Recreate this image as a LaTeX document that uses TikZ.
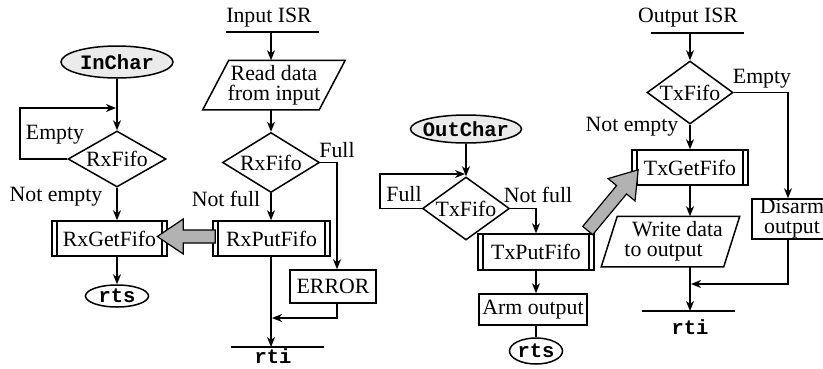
\documentclass[tikz,border=0pt]{standalone}
\usepackage{fontspec}
\setmainfont{Liberation Serif}
\setmonofont{Liberation Mono}
\usetikzlibrary{shapes.geometric,arrows.meta,calc}
\definecolor{lightfill}{gray}{0.92}
\definecolor{gfill}{gray}{0.70}
\begin{document}
\begin{tikzpicture}[x=1pt,y=-1pt,
  line width=1.5pt,
  every node/.style={font=\fontsize{21.8}{20}\selectfont, inner sep=0pt},
  mono/.style={font=\fontsize{20.5}{20}\selectfont\ttfamily\bfseries},
  arr/.style={-{Stealth[length=10pt,width=8pt,inset=3pt]}},
  dec/.style={draw, diamond, inner sep=0pt},
  term/.style={draw, ellipse, inner sep=0pt},
  boxx/.style={draw, rectangle},
  pproc/.style={draw, rectangle, path picture={
      \draw[line width=1.5pt]
        ([xshift=5pt]path picture bounding box.north west) -- ([xshift=5pt]path picture bounding box.south west)
        ([xshift=-5pt]path picture bounding box.north east) -- ([xshift=-5pt]path picture bounding box.south east);}},
  garrow/.style={draw, line width=1.2pt, fill=gfill, line join=miter},
  barnode/.style={minimum width=91pt, minimum height=0pt}
]
\useasboundingbox (0,0) rectangle (823,368);
\clip (0,0) rectangle (823,368);

% ---------- InChar ----------
\node[term, fill=lightfill, minimum width=112pt, minimum height=32pt, label={[mono]center:InChar}] (inchar) at (117,62) {};
\node[dec, minimum width=98pt, minimum height=56pt, label=center:RxFifo] (d1) at (117,159) {};
\node[pproc, minimum width=115pt, minimum height=35pt] (rxget) at (109.5,238.5) {RxGetFifo};
\node[term, minimum width=63pt, minimum height=22pt, label={[mono]center:rts}] (rts1) at (117,296) {};
\node (empty1) at (55,135) {Empty};
\node (nempty1) at (56,197) {Not empty};
\coordinate (c1) at (20,108);
\draw[arr] (inchar.south) -- (d1.north);
\draw[arr] (d1.west) -| (c1) -- ([xshift=-1pt]inchar.south |- c1);
\draw[arr] (d1.south) -- (d1.south |- rxget.north);
\draw[arr] (d1.south |- rxget.south) -- (rts1.north);

% ---------- Input ISR ----------
\node (isr1) at (269,18) {Input ISR};
\node[barnode] (bar1) at (272.5,32) {};
\draw (bar1.west) -- (bar1.east);
\coordinate (a1) at (271,32);
\node[minimum width=115pt, minimum height=48pt, align=center] (par1) at (274,85) {Read data\\from input};
\draw ([xshift=13pt]par1.north west) -- ([xshift=13pt]par1.north east) -- ([xshift=-13pt]par1.south east) -- ([xshift=-13pt]par1.south west) -- cycle;
\draw[arr] (a1) -- (a1 |- par1.north);
\node[dec, minimum width=97pt, minimum height=60pt, label=center:RxFifo] (d2) at (271,162.5) {};
\draw[arr] (a1 |- par1.south) -- (d2.north);
\node (full1) at (337,150) {Full};
\node (nfull1) at (226,199) {Not full};
\node[pproc, minimum width=117pt, minimum height=35pt] (rxput) at (271.5,238.5) {RxPutFifo};
\draw[arr] (d2.south) -- (d2.south |- rxput.north);
\node[boxx, minimum width=86pt, minimum height=33pt] (err) at (333,286.5) {ERROR};
\draw[arr] (d2.east) -| ([xshift=4pt]err.north);
\node[barnode] (bar2) at (277.5,347) {};
\draw (bar2.west) -- (bar2.east);
\node[mono] (rti1) at (273,356) {rti};
\coordinate (j1) at (271,318);
\draw[arr] (d2.south |- rxput.south) -- (d2.south |- bar2.center);
\draw[arr] ([xshift=4pt]err.south) |- ([xshift=1pt]j1);

% gray arrow RxPutFifo -> RxGetFifo
\begin{scope}[shift={([yshift=2pt]rxput.west)}, rotate=180]
  \draw[garrow] (-3,6.5) -- (29,6.5) -- (29,17.5) -- (55,0) -- (29,-17.5) -- (29,-6.5) -- (-3,-6.5) -- cycle;
\end{scope}

% ---------- OutChar ----------
\node[term, fill=lightfill, minimum width=111pt, minimum height=28pt, label={[mono]center:OutChar}] (outchar) at (466,129) {};
\node[dec, minimum width=87pt, minimum height=63pt, label=center:TxFifo] (d3) at (466,208.5) {};
\draw[arr] (outchar.south) -- (d3.north);
\coordinate (c3) at (380,174);
\draw[arr] (d3.west) -| (c3) -- ([xshift=-1pt]d3.north |- c3);
\node (full2) at (404,194) {Full};
\node (nfull2) at (538,195) {Not full};
\node[pproc, minimum width=116pt, minimum height=36pt] (txput) at (536,252) {TxPutFifo};
\draw[arr] (d3.east) -| (txput.north);
\node[boxx, minimum width=108pt, minimum height=31pt] (arm) at (533,309.5) {Arm output};
\draw[arr] (txput.south) -- (txput.south |- arm.north);
\node[term, minimum width=53pt, minimum height=26pt, label={[mono]center:rts}] (rts2) at (536,351) {};
\draw (txput.south |- arm.south) -- (rts2.north);

% ---------- Output ISR ----------
\node (isr2) at (688,18) {Output ISR};
\node[barnode] (bar3) at (697.5,33) {};
\draw (bar3.west) -- (bar3.east);
\coordinate (a3) at (690,33);
\node[dec, minimum width=86pt, minimum height=63pt, label=center:TxFifo] (d4) at (690,92.5) {};
\draw[arr] (a3) -- (d4.north);
\node (empty2) at (762,79) {Empty};
\node (nempty2) at (632,127) {Not empty};
\node[pproc, minimum width=116pt, minimum height=35pt] (txget) at (690,167.5) {TxGetFifo};
\draw[arr] (d4.south) -- (txget.north);
\node[boxx, minimum width=80pt, minimum height=40pt, align=center] (disarm) at (792,219) {Disarm\\output};
\draw[arr] (d4.east) -| ([xshift=-4pt]disarm.north);
\node[minimum width=121pt, minimum height=49pt, align=center] (par2) at (670.5,241.5) {\hspace*{14pt}Write data\\to output\hspace*{14pt}};
\draw ([xshift=8pt]par2.north west) -- ([xshift=8pt]par2.north east) -- ([xshift=-8pt]par2.south east) -- ([xshift=-8pt]par2.south west) -- cycle;
\draw[arr] (txget.south) -- (txget.south |- par2.north);
\node[barnode] (bar4) at (688.5,311) {};
\draw (bar4.west) -- (bar4.east);
\node[mono] (rti2) at (690,327) {rti};
\coordinate (j2) at (690,284);
\draw[arr] (txget.south |- par2.south) -- (txget.south |- bar4.center);
\draw[arr] ([xshift=-4pt]disarm.south) |- ([xshift=1pt]j2);

% gray arrow TxPutFifo -> TxGetFifo
\coordinate (g2) at (589,229);
\begin{scope}[shift={(g2)}, rotate=50.3]
  \draw[garrow] (-2,6.5) -- (51,6.5) -- (51,17.5) -- (77,0) -- (51,-17.5) -- (51,-6.5) -- (-2,-6.5) -- cycle;
\end{scope}
\end{tikzpicture}
\end{document}
